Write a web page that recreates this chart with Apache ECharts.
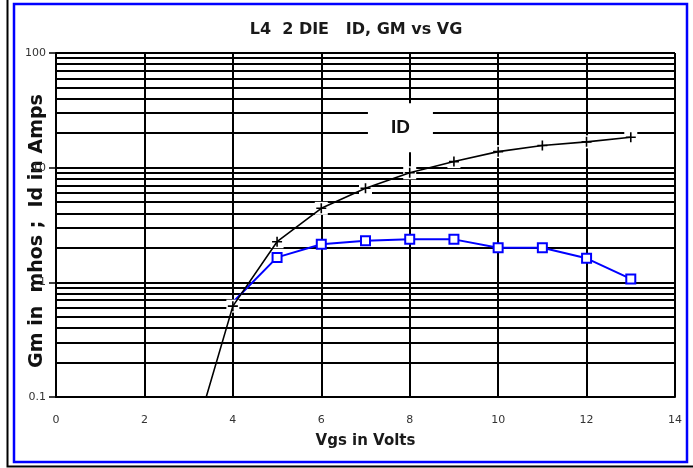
<!DOCTYPE html>
<html><head><meta charset="utf-8">
<script src="https://cdn.jsdelivr.net/npm/echarts@6/dist/echarts.min.js"></script>
<style>html,body{margin:0;padding:0;background:#fff}#c{width:693px;height:468px}</style>
</head><body><div id="c"></div>
<script>
const idX = [3, 4, 5, 6, 7, 8, 9, 10, 11, 12, 13];
const idVals = [0.03, 0.62, 2.26, 4.42, 6.61, 9.02, 11.3, 13.8, 15.6, 16.8, 18.4];
const gmX = [4, 5, 6, 7, 8, 9, 10, 11, 12, 13];
const gmVals = [0.67, 1.65, 2.15, 2.31, 2.37, 2.37, 2.0, 2.0, 1.62, 1.07];
const xTicks = [0, 2, 4, 6, 8, 10, 12, 14];
const yMinor = [0.2,0.3,0.4,0.5,0.6,0.7,0.8,0.9,2,3,4,5,6,7,8,9,20,30,40,50,60,70,80,90];
const idLabel = {x: 7.79, y: 22.3, text: 'ID'};

const chart = echarts.init(document.getElementById('c'));
const wide = 'DejaVu Sans, Verdana, sans-serif';
const arial = 'Liberation Sans, Arial, sans-serif';
chart.setOption({
  backgroundColor: '#fff',
  animation: false,
  title: {text: 'L4  2 DIE   ID, GM vs VG', left: 351, top: 17, textAlign: 'center',
    textStyle: {fontFamily: wide, fontSize: 16, fontWeight: 'bold', color: '#1a1a1a'}},
  graphic: [
    {type: 'rect', shape: {x: 7.5, y: -10, width: 700, height: 476.5}, style: {fill: null, stroke: '#000', lineWidth: 2}, silent: true},
    {type: 'rect', shape: {x: 14, y: 4, width: 673, height: 458}, style: {fill: null, stroke: '#0000ff', lineWidth: 2.5}, silent: true}
  ],
  grid: {left: 56, right: 18, top: 53, bottom: 71},
  xAxis: {type: 'value', min: 0, max: 14, interval: 2,
    name: 'Vgs in Volts', nameLocation: 'middle', nameGap: 37, nameMoveOverlap: false,
    nameTextStyle: {fontFamily: wide, fontSize: 15, fontWeight: 'bold', color: '#1a1a1a'},
    axisLine: {lineStyle: {color: '#000', width: 2}}, axisTick: {show: false},
    axisLabel: {margin: 18, fontFamily: wide, fontSize: 11, color: '#333',
      formatter: v => xTicks.includes(v) ? String(v) : ''},
    splitLine: {show: true, lineStyle: {color: '#000', width: 2}}},
  yAxis: {type: 'log', logBase: 10, min: 0.1, max: 100,
    name: 'Gm in  mhos ;  Id in Amps', nameLocation: 'middle', nameGap: 9, nameMoveOverlap: false,
    nameTextStyle: {fontFamily: wide, fontSize: 19, fontWeight: 'bold', color: '#111', padding: [0, 12, 0, 0]},
    axisLine: {show: true, lineStyle: {color: '#000', width: 2}},
    axisTick: {show: true, length: 7, lineStyle: {color: '#000', width: 1.5}},
    axisLabel: {margin: 10, fontFamily: wide, fontSize: 11, color: '#333', formatter: v => String(v)},
    splitLine: {show: true, lineStyle: {color: '#000', width: 2}}},
  series: [
    {type: 'line', data: [], z: 1, silent: true,
      markLine: {silent: true, z: 1, symbol: 'none', label: {show: false},
        lineStyle: {color: '#000', width: 2, type: 'solid'},
        data: yMinor.map(v => ({yAxis: v}))}},
    {type: 'line', name: 'Gm', z: 3, data: gmX.map((x, i) => i === 0 ? {value: [x, gmVals[i]], symbol: 'none'} : [x, gmVals[i]]),
      symbol: 'rect', symbolSize: 9, showAllSymbol: true,
      lineStyle: {color: '#0000ff', width: 2},
      itemStyle: {color: '#fff', borderColor: '#0000ff', borderWidth: 2}},
    {type: 'scatter', z: 3.5, silent: true, symbol: 'rect', symbolSize: [13, 13],
      itemStyle: {color: '#fff', opacity: 1}, data: idX.map((x, i) => [x, idVals[i]]).filter(d => d[1] >= 0.1)},
    {type: 'scatter', z: 3.5, silent: true, symbol: 'rect', symbolSize: [65, 49],
      itemStyle: {color: '#fff', opacity: 1},
      label: {show: true, position: 'inside', formatter: idLabel.text, fontFamily: arial, fontSize: 19,
        fontWeight: 'bold', color: '#111'},
      data: [[idLabel.x, idLabel.y]]},
    {type: 'line', name: 'Id', z: 4, data: idX.map((x, i) => [x, idVals[i]]),
      symbol: 'path://M5,0 L5,10 M0,5 L10,5', symbolSize: 10, showAllSymbol: true,
      lineStyle: {color: '#000', width: 1.6},
      itemStyle: {color: '#000', borderColor: '#000', borderWidth: 1.6}}
  ]
});
</script></body></html>
